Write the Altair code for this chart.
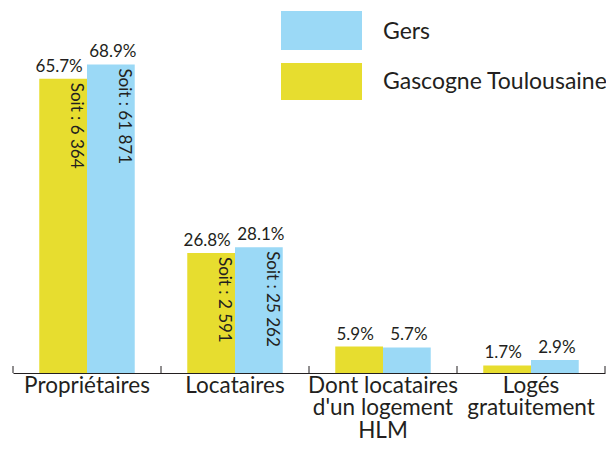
import json
import altair as alt
import pandas as pd

categories = ["Propriétaires", "Locataires", "Dont locataires d'un logement HLM", "Logés gratuitement"]
label_lines = [["Propriétaires"], ["Locataires"], ["Dont locataires", "d'un logement", "HLM"], ["Logés", "gratuitement"]]
series = ["Gascogne Toulousaine", "Gers"]
legend_order = ["Gers", "Gascogne Toulousaine"]
pct_gascogne = [65.7, 26.8, 5.9, 1.7]
pct_gers = [68.9, 28.1, 5.7, 2.9]
count_gascogne = [6364, 2591, None, None]
count_gers = [61871, 25262, None, None]
color_gers = "#9bd9f6"
color_gascogne = "#e7dd2f"
text_color = "#231f20"
FONT = "Lato"

rows = []
for i, c in enumerate(categories):
    for s, p, n in [(series[0], pct_gascogne[i], count_gascogne[i]),
                    (series[1], pct_gers[i], count_gers[i])]:
        rows.append({
            "cat": c,
            "serie": s,
            "pct": p,
            "pct_label": f"{p:.1f}%",
            "soit": (f"Soit : {n:,}".replace(",", " ") if n else ""),
        })
df = pd.DataFrame(rows)
cat_df = pd.DataFrame({"cat": categories})
legend_df = pd.DataFrame({"serie": legend_order})

label_map = json.dumps({c: l for c, l in zip(categories, label_lines)}, ensure_ascii=False)

W, H = 592, 365

color_scale = alt.Scale(domain=legend_order, range=[color_gers, color_gascogne])

x_axis = alt.Axis(
    title=None, labelAngle=0, labelExpr=f"{label_map}[datum.label]",
    labelFontSize=22.5, labelFont=FONT, labelColor=text_color, labelPadding=1,
    labelLineHeight=22.5, ticks=False, domainColor=text_color, domainWidth=1,
    labelLimit=0,
)
x_enc = alt.X("cat:N", sort=categories, axis=x_axis,
              scale=alt.Scale(paddingInner=0, paddingOuter=0))
xoff = alt.XOffset("serie:N", sort=series,
                   scale=alt.Scale(paddingOuter=0.55, paddingInner=0))
y_enc = alt.Y("pct:Q", scale=alt.Scale(domain=[0, 81.5]), axis=None)

base = alt.Chart(df).encode(x=x_enc, xOffset=xoff, y=y_enc)

bars = base.mark_bar().encode(
    color=alt.Color("serie:N", scale=color_scale, legend=None)
)

pct_text_layers = [
    base.mark_text(
        baseline="bottom", dy=-3, dx=dx, fontSize=17, font=FONT, color=text_color
    ).encode(text="pct_label:N").transform_filter(alt.datum.serie == s)
    for s, dx in zip(series, [-4, 2])
]

soit_text = base.mark_text(
    angle=90, align="left", baseline="alphabetic", dx=4, dy=-8,
    fontSize=17, font=FONT, color=text_color
).encode(text="soit:N")

ticks = alt.Chart(cat_df).mark_rule(color=text_color, strokeWidth=1).encode(
    x=alt.X("cat:N", sort=categories, axis=x_axis, bandPosition=0),
    y=alt.value(H - 7), y2=alt.value(H),
)
end_tick = alt.Chart(cat_df).mark_rule(color=text_color, strokeWidth=1).encode(
    x=alt.X("cat:N", sort=categories, axis=x_axis, bandPosition=1),
    y=alt.value(H - 7), y2=alt.value(H),
).transform_filter(alt.datum.cat == categories[-1])

# Custom legend (swatches + labels)
legend_layers = []
for name, (y1, y2, yt) in zip(legend_order, [(3, 42, 24), (55, 92, 74)]):
    src = alt.Chart(legend_df).transform_filter(alt.datum.serie == name)
    legend_layers.append(
        src.mark_rect().encode(
            x=alt.value(268), x2=alt.value(349), y=alt.value(y1), y2=alt.value(y2),
            color=alt.Color("serie:N", scale=color_scale, legend=None),
        )
    )
    legend_layers.append(
        src.mark_text(align="left", baseline="middle", fontSize=23, font=FONT,
                      color=text_color).encode(
            x=alt.value(370), y=alt.value(yt), text="serie:N"
        )
    )

chart = alt.layer(bars, *pct_text_layers, soit_text, ticks, end_tick, *legend_layers).properties(
    width=W, height=H,
    autosize=alt.AutoSizeParams(type="none"),
    padding={"left": 5, "top": 0, "right": 1, "bottom": 73},
    background="white",
).configure_view(stroke=None)

chart.save("out.html", embed_options={"renderer": "svg", "actions": False})
